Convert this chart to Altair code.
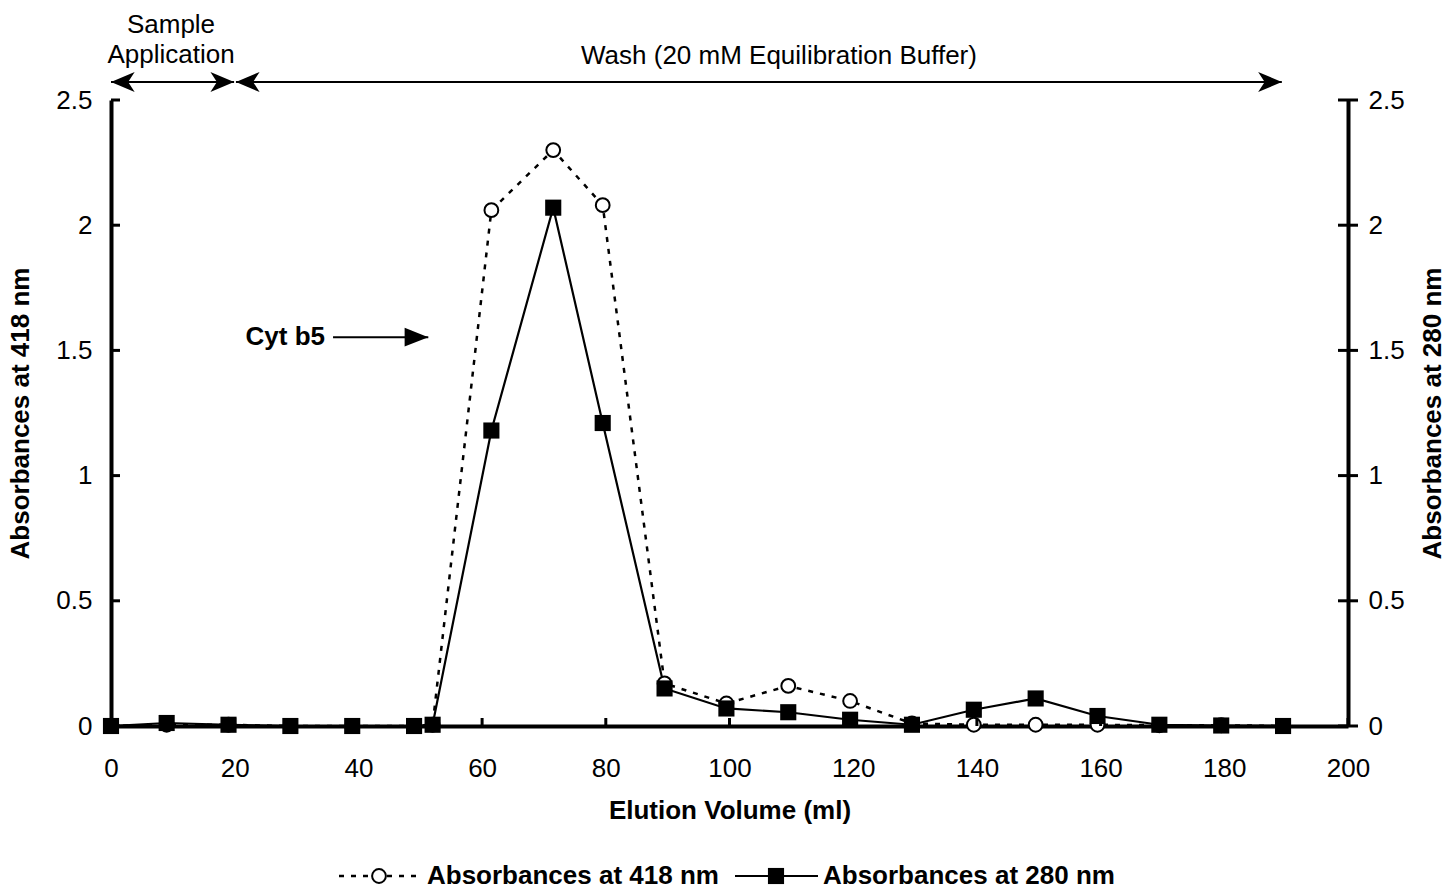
import altair as alt
import pandas as pd

# ---- data ----
volume = [0, 9, 19, 29, 39, 49, 52, 61.5, 71.5, 79.5, 89.5, 99.5, 109.5, 119.5,
          129.5, 139.5, 149.5, 159.5, 169.5, 179.5, 189.5]
abs418 = [0, 0.005, 0.005, 0, 0, 0, 0.005, 2.06, 2.30, 2.08, 0.17, 0.09, 0.16, 0.10,
          0.01, 0.005, 0.005, 0.005, 0.003, 0.003, 0]
abs280 = [0, 0.012, 0.005, 0, 0, 0, 0.005, 1.18, 2.07, 1.21, 0.15, 0.07, 0.055, 0.025,
          0.005, 0.065, 0.11, 0.04, 0.005, 0.002, 0]

series_names = ["Absorbances at 418 nm", "Absorbances at 280 nm"]
x_ticks = [0, 20, 40, 60, 80, 100, 120, 140, 160, 180, 200]
y_ticks = [0, 0.5, 1, 1.5, 2, 2.5]
x_title = "Elution Volume (ml)"

# annotations (in data units)
ann_text = ["Sample", "Application", "Wash (20 mM Equilibration Buffer)"]
ann_x = [9.7, 9.7, 108.0]
ann_y = [2.768, 2.648, 2.644]
arrow_x1 = [0, 20.2, 35.9]
arrow_x2 = [19.9, 189.3, 51.3]
arrow_y = [2.572, 2.572, 1.553]
cyt_label = "Cyt b5"

W, H = 1237, 626
FONT = "Liberation Sans"
FS = 26

df = pd.DataFrame({"vol": volume, "a418": abs418, "a280": abs280})

XSC = alt.Scale(domain=[0, 200], nice=False, zero=False)
YSC = alt.Scale(domain=[0, 2.5], nice=False)

x_axis = alt.Axis(values=x_ticks, ticks=False, grid=False, domainWidth=4,
                  domainColor="black", labelFontSize=FS, labelColor="black",
                  labelPadding=29, title=x_title, titleFontSize=FS,
                  titleFontWeight="bold", titleColor="black", titleY=84,
                  titleBaseline="middle", labelFlush=False, labelOverlap=False)


def X(field):
    return alt.X(field, type="quantitative", scale=XSC, axis=x_axis)


def Y(field, axis=None):
    return alt.Y(field, type="quantitative", scale=YSC, axis=axis)


left_axis = alt.Axis(orient="left", values=y_ticks, format="~g", ticks=False, grid=False,
                     domainWidth=4, domainColor="black", labelFontSize=FS,
                     labelColor="black", labelPadding=19, title=series_names[0],
                     titleFontSize=FS, titleFontWeight="bold", titleColor="black",
                     titleAngle=270, titleX=-91, titleY=H / 2, titleAlign="center",
                     titleBaseline="middle", labelFlush=False)
right_axis = alt.Axis(orient="right", values=y_ticks, format="~g", ticks=False, grid=False,
                      domainWidth=4, domainColor="black", labelFontSize=FS,
                      labelColor="black", labelPadding=20, title=series_names[1],
                      titleFontSize=FS, titleFontWeight="bold", titleColor="black",
                      titleAngle=270, titleX=84, titleY=H / 2, titleAlign="center",
                      titleBaseline="middle", labelFlush=False)

base = alt.Chart(df)

DASH = [5, 7]
line418 = base.mark_line(color="black", strokeWidth=2.5, strokeDash=DASH).encode(
    x=X("vol"), y=Y("a418", left_axis))
pts418 = base.mark_point(shape="circle", filled=True, fill="white", stroke="black",
                         strokeWidth=2, size=190, opacity=1).encode(
    x=X("vol"), y=Y("a418"))
line280 = base.mark_line(color="black", strokeWidth=2.2).encode(
    x=X("vol"), y=Y("a280", right_axis))
pts280 = base.mark_point(shape="square", filled=True, color="black", size=260,
                         opacity=1).encode(x=X("vol"), y=Y("a280"))

# tick marks
xt = pd.DataFrame({"t": x_ticks})
xticks = alt.Chart(xt).mark_rule(color="black", strokeWidth=3).encode(
    x=X("t"), y=alt.value(H - 8), y2=alt.value(H))
yt = pd.DataFrame({"t": y_ticks})
lticks = alt.Chart(yt).mark_rule(color="black", strokeWidth=3).encode(
    y=Y("t"), x=alt.value(0), x2=alt.value(9))
rticks = alt.Chart(yt).mark_rule(color="black", strokeWidth=3).encode(
    y=Y("t"), x=alt.value(W - 10), x2=alt.value(W + 10))

# arrows
arr = pd.DataFrame({"x1": arrow_x1, "x2": arrow_x2, "y": arrow_y})
arrows = alt.Chart(arr).mark_rule(color="black", strokeWidth=2).encode(
    x=X("x1"), x2="x2", y=Y("y"))
LEFT = "M0,0 L2,-0.85 L1.45,0 L2,0.85 Z"
RIGHT = "M0,0 L-2,-0.85 L-1.45,0 L-2,0.85 Z"
TRI = "M0,0 L-2,-0.8 L-2,0.8 Z"
heads = pd.DataFrame({
    "x": [arrow_x1[0], arrow_x2[0], arrow_x1[1], arrow_x2[1], arrow_x2[2]],
    "y": [arrow_y[0], arrow_y[0], arrow_y[1], arrow_y[1], arrow_y[2]],
    "s": [LEFT, RIGHT, LEFT, RIGHT, TRI],
})
headmarks = alt.Chart(heads).mark_point(filled=True, color="black", opacity=1,
                                        size=560, strokeWidth=0).encode(
    x=X("x"), y=Y("y"), shape=alt.Shape("s:N", scale=None, legend=None))

ann = pd.DataFrame({"x": ann_x, "y": ann_y, "t": ann_text})
ann_marks = alt.Chart(ann).mark_text(font=FONT, fontSize=FS, color="black",
                                     align="center", baseline="alphabetic").encode(
    x=X("x"), y=Y("y"), text="t:N")
cyt = pd.DataFrame({"x": [arrow_x1[2] - 1.3], "y": [arrow_y[2]], "t": [cyt_label]})
cyt_mark = alt.Chart(cyt).mark_text(font=FONT, fontSize=FS, fontWeight="bold",
                                    color="black", align="right",
                                    baseline="middle").encode(
    x=X("x"), y=Y("y"), text="t:N")

# legend (manual, below plot)
one = alt.Data(values=[{"a": 1}])
LY = 776
leg = [
    alt.Chart(one).mark_rule(color="black", strokeWidth=2.5, strokeDash=DASH).encode(
        x=alt.value(228), x2=alt.value(311), y=alt.value(LY)),
    alt.Chart(one).mark_point(shape="circle", filled=True, fill="white", stroke="black",
                              strokeWidth=2, size=190, opacity=1).encode(
        x=alt.value(268), y=alt.value(LY)),
    alt.Chart(one).mark_text(font=FONT, fontSize=FS, fontWeight="bold", color="black",
                             align="left", baseline="middle").encode(
        x=alt.value(316), y=alt.value(LY), text=alt.value(series_names[0])),
    alt.Chart(one).mark_rule(color="black", strokeWidth=2.2).encode(
        x=alt.value(624), x2=alt.value(707), y=alt.value(LY)),
    alt.Chart(one).mark_point(shape="square", filled=True, color="black", size=260,
                              opacity=1).encode(x=alt.value(665), y=alt.value(LY)),
    alt.Chart(one).mark_text(font=FONT, fontSize=FS, fontWeight="bold", color="black",
                             align="left", baseline="middle").encode(
        x=alt.value(712), y=alt.value(LY), text=alt.value(series_names[1])),
]

chart = alt.layer(
    line418, line280, pts418, pts280, xticks, lticks, rticks,
    arrows, headmarks, ann_marks, cyt_mark, *leg
).resolve_scale(y="independent").properties(
    width=W, height=H,
    autosize=alt.AutoSizeParams(type="none"),
    padding={"left": 111, "top": 100, "right": 99, "bottom": 164},
).configure(font=FONT).configure_view(stroke=None).configure_axis(
    labelFont=FONT, titleFont=FONT)

chart.save("out.html", embed_options={"renderer": "svg", "actions": False})
